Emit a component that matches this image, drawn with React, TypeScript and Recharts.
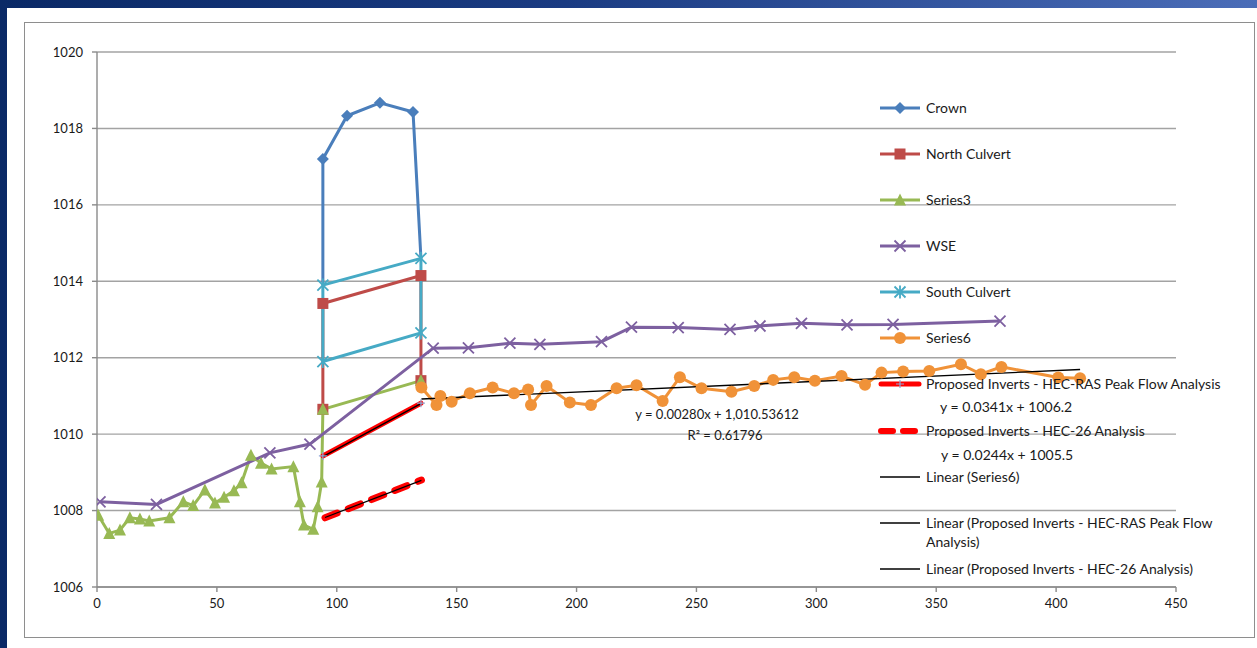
import React from 'react';
import { LineChart, Line, XAxis, YAxis, CartesianGrid } from 'recharts';

const xTicks = [0, 50, 100, 150, 200, 250, 300, 350, 400, 450];
const yTicks = [1006, 1008, 1010, 1012, 1014, 1016, 1018, 1020];

const crownX = [94.2, 94.2, 104.3, 118, 131.8, 135.1];
const crownY = [1013.9, 1017.2, 1018.33, 1018.67, 1018.43, 1014.6];

const northX = [94.2, 94.2, 135.1, 135.1];
const northY = [1010.65, 1013.42, 1014.15, 1011.4];

const series3X = [0.5, 5.1, 9.6, 13.7, 17.9, 21.8, 30.2, 36, 40.1, 45, 49.2, 53, 57.1, 60.3, 64.2, 68.4, 72.8, 81.9, 84.6, 86.3, 90.2, 92, 93.7, 94.2, 135.1];
const series3Y = [1007.88, 1007.4, 1007.49, 1007.81, 1007.78, 1007.73, 1007.81, 1008.23, 1008.13, 1008.54, 1008.2, 1008.35, 1008.52, 1008.73, 1009.45, 1009.24, 1009.09, 1009.15, 1008.23, 1007.62, 1007.51, 1008.1, 1008.75, 1010.65, 1011.4];

const wseX = [1.25, 24.8, 72.1, 88.8, 140.2, 154.9, 172.2, 184.7, 210.4, 222.9, 242.4, 264, 276.5, 293.8, 312.8, 332, 376.6];
const wseY = [1008.23, 1008.16, 1009.51, 1009.74, 1012.25, 1012.26, 1012.38, 1012.35, 1012.42, 1012.8, 1012.79, 1012.74, 1012.83, 1012.9, 1012.86, 1012.87, 1012.96];

const southX = [94.2, 135.1, 135.1, 94.2, 94.2];
const southY = [1011.9, 1012.65, 1014.6, 1013.9, 1011.9];

const series6X = [135.3, 141.6, 143.2, 147.9, 155.5, 165, 173.9, 179.8, 181, 187.5, 197.2, 206, 216.7, 225, 235.9, 243.1, 252.1, 264.6, 274.1, 282, 290.8, 299.4, 310.5, 320.3, 327.2, 336.2, 347.1, 360.3, 368.6, 377.2, 400.9, 410];
const series6Y = [1011.22, 1010.76, 1011.0, 1010.85, 1011.07, 1011.22, 1011.07, 1011.17, 1010.76, 1011.26, 1010.83, 1010.76, 1011.2, 1011.28, 1010.87, 1011.49, 1011.2, 1011.11, 1011.26, 1011.42, 1011.49, 1011.4, 1011.52, 1011.29, 1011.61, 1011.64, 1011.65, 1011.83, 1011.57, 1011.76, 1011.48, 1011.46];

const hecRasX = [94.2, 135.1];
const hecRasY = [1009.43, 1010.81];

const hec26X = [95.1, 135.3];
const hec26Y = [1007.81, 1008.8];

const trend6X = [135.3, 410];
const trend6Y = [1010.92, 1011.69];
const trendRasX = [94.2, 135.1];
const trendRasY = [1009.41, 1010.8];
const trend26X = [95.1, 135.3];
const trend26Y = [1007.82, 1008.79];

const pts = (xs: number[], ys: number[]) => xs.map((x, i) => ({ x, y: ys[i] }));

const C = {
  crown: '#4a7ebb',
  north: '#be4b48',
  s3: '#98b954',
  wse: '#7d60a0',
  south: '#46aac5',
  s6: '#f09238',
  red: '#ff0000',
};

type Shape = 'diamond' | 'square' | 'triangle' | 'x' | 'star' | 'circle' | 'plus';

function marker(shape: Shape, cx: number, cy: number, color: string, key?: string) {
  const s = 6;
  switch (shape) {
    case 'diamond':
      return <path key={key} d={`M${cx},${cy - s}L${cx + s},${cy}L${cx},${cy + s}L${cx - s},${cy}Z`} fill={color} />;
    case 'square':
      return <rect key={key} x={cx - 5.5} y={cy - 5.5} width={11} height={11} fill={color} />;
    case 'triangle':
      return <path key={key} d={`M${cx},${cy - 6.5}L${cx + 6},${cy + 5.5}L${cx - 6},${cy + 5.5}Z`} fill={color} />;
    case 'x':
      return <path key={key} d={`M${cx - 5.5},${cy - 5.5}L${cx + 5.5},${cy + 5.5}M${cx + 5.5},${cy - 5.5}L${cx - 5.5},${cy + 5.5}`} stroke={color} strokeWidth={1.8} />;
    case 'star':
      return <path key={key} d={`M${cx - 5.5},${cy - 5.5}L${cx + 5.5},${cy + 5.5}M${cx + 5.5},${cy - 5.5}L${cx - 5.5},${cy + 5.5}M${cx},${cy - 6.5}L${cx},${cy + 6.5}`} stroke={color} strokeWidth={1.8} />;
    case 'circle':
      return <circle key={key} cx={cx} cy={cy} r={6} fill={color} />;
    case 'plus':
      return <path key={key} d={`M${cx - 4},${cy}L${cx + 4},${cy}M${cx},${cy - 4}L${cx},${cy + 4}`} stroke="#8fa7d6" strokeWidth={1.2} />;
  }
  return null;
}

const dotFn = (shape: Shape, color: string, skip: number[] = []) => (p: any) => {
  const k = `dot-${p.index}`;
  if (skip.includes(p.index) || p.cx == null) return <g key={k} />;
  return marker(shape, p.cx, p.cy, color, k) as React.ReactElement;
};

const font = 'Lato, "Open Sans", sans-serif';
const legendFont = 14;
const lw = 3;

function LegendRow({ top, color, shape, kind, children }: { top: number; color?: string; shape?: Shape; kind: 'series' | 'ras' | 'h26' | 'trend'; children: React.ReactNode }) {
  return (
    <div style={{ position: 'absolute', left: 0, top: top - 9, height: 18, display: 'flex', alignItems: 'flex-start', whiteSpace: 'nowrap' }}>
      <svg width={44} height={18} style={{ display: 'block', marginRight: 4 }}>
        {kind === 'series' && <line x1={2} y1={9} x2={42} y2={9} stroke={color} strokeWidth={lw} />}
        {kind === 'series' && shape && marker(shape, 22, 9, color!)}
        {kind === 'ras' && <line x1={3} y1={9} x2={41} y2={9} stroke={C.red} strokeWidth={5} strokeLinecap="round" />}
        {kind === 'ras' && marker('plus', 22, 9, '#8fa7d6')}
        {kind === 'h26' && <line x1={3} y1={9} x2={41} y2={9} stroke={C.red} strokeWidth={6} strokeLinecap="round" strokeDasharray="12 10" />}
        {kind === 'trend' && <line x1={2} y1={9} x2={42} y2={9} stroke="#000" strokeWidth={1.4} />}
      </svg>
      <div style={{ fontSize: legendFont, lineHeight: '18px', color: '#1a1a1a' }}>{children}</div>
    </div>
  );
}

function LegendBox() {
  const sub = { position: 'absolute' as const, fontSize: legendFont, lineHeight: '18px', color: '#1a1a1a', whiteSpace: 'nowrap' as const };
  return (
    <div style={{ position: 'absolute', left: 878, top: 96, width: 370, height: 490, fontFamily: font }}>
      <LegendRow top={12} kind="series" color={C.crown} shape="diamond">Crown</LegendRow>
      <LegendRow top={58} kind="series" color={C.north} shape="square">North Culvert</LegendRow>
      <LegendRow top={104} kind="series" color={C.s3} shape="triangle">Series3</LegendRow>
      <LegendRow top={150} kind="series" color={C.wse} shape="x">WSE</LegendRow>
      <LegendRow top={196} kind="series" color={C.south} shape="star">South Culvert</LegendRow>
      <LegendRow top={242} kind="series" color={C.s6} shape="circle">Series6</LegendRow>
      <LegendRow top={288} kind="ras">Proposed Inverts - HEC-RAS Peak Flow Analysis</LegendRow>
      <div style={{ ...sub, left: 62, top: 302 }}>y = 0.0341x + 1006.2</div>
      <LegendRow top={335} kind="h26">Proposed Inverts - HEC-26 Analysis</LegendRow>
      <div style={{ ...sub, left: 63, top: 350 }}>y = 0.0244x + 1005.5</div>
      <LegendRow top={381} kind="trend">Linear (Series6)</LegendRow>
      <LegendRow top={427} kind="trend">Linear (Proposed Inverts - HEC-RAS Peak Flow</LegendRow>
      <div style={{ ...sub, left: 48, top: 437 }}>Analysis)</div>
      <LegendRow top={473} kind="trend">Linear (Proposed Inverts - HEC-26 Analysis)</LegendRow>
    </div>
  );
}

export default function App() {
  const tick = { fontSize: 13, fill: '#1a1a1a', fontFamily: font };
  return (
    <div style={{ position: 'absolute', left: 0, top: 0, width: 1257, height: 648, overflow: 'hidden', background: 'linear-gradient(90deg, #0a2966 0%, #1a3b82 45%, #4b6db8 100%)', fontFamily: font }}>
      <div style={{ position: 'absolute', left: 7, top: 8, width: 1250, height: 640, background: '#fff' }} />
      <div style={{ position: 'absolute', left: 24, top: 22, width: 1229, height: 614, border: '1.5px solid #8e8e8e' }} />
      <div style={{ position: 'absolute', left: 0, top: 0 }}>
        <LineChart width={1257} height={648} margin={{ top: 52, right: 81, left: 37, bottom: 31 }}>
          <CartesianGrid vertical={false} stroke="#a3a3a3" strokeWidth={1.4} />
          <XAxis type="number" dataKey="x" domain={[0, 450]} ticks={xTicks} allowDataOverflow height={30} tick={tick} tickSize={5} tickMargin={7} stroke="#8a8a8a" strokeWidth={1.4} />
          <YAxis type="number" dataKey="y" domain={[1006, 1020]} ticks={yTicks} allowDataOverflow width={60} tick={tick} tickSize={5} tickMargin={9} stroke="#8a8a8a" strokeWidth={1.4} />
          <Line data={pts(crownX, crownY)} dataKey="y" name="Crown" stroke={C.crown} strokeWidth={lw} dot={dotFn('diamond', C.crown, [0, 5])} activeDot={false} isAnimationActive={false} />
          <Line data={pts(northX, northY)} dataKey="y" name="North Culvert" stroke={C.north} strokeWidth={lw} dot={dotFn('square', C.north)} activeDot={false} isAnimationActive={false} />
          <Line data={pts(series3X, series3Y)} dataKey="y" name="Series3" stroke={C.s3} strokeWidth={lw} dot={dotFn('triangle', C.s3)} activeDot={false} isAnimationActive={false} />
          <Line data={pts(wseX, wseY)} dataKey="y" name="WSE" stroke={C.wse} strokeWidth={lw} dot={dotFn('x', C.wse)} activeDot={false} isAnimationActive={false} />
          <Line data={pts(southX, southY)} dataKey="y" name="South Culvert" stroke={C.south} strokeWidth={lw} dot={dotFn('star', C.south, [4])} activeDot={false} isAnimationActive={false} />
          <Line data={pts(series6X, series6Y)} dataKey="y" name="Series6" stroke={C.s6} strokeWidth={lw} dot={dotFn('circle', C.s6)} activeDot={false} isAnimationActive={false} />
          <Line data={pts(hecRasX, hecRasY)} dataKey="y" name="Proposed Inverts - HEC-RAS Peak Flow Analysis" stroke={C.red} strokeWidth={5} strokeLinecap="round" dot={dotFn('plus', C.red)} activeDot={false} isAnimationActive={false} />
          <Line data={pts(hec26X, hec26Y)} dataKey="y" name="Proposed Inverts - HEC-26 Analysis" stroke={C.red} strokeWidth={7} strokeLinecap="round" strokeDasharray="13 12" dot={false} activeDot={false} isAnimationActive={false} />
          <Line data={pts(trend6X, trend6Y)} dataKey="y" name="Linear (Series6)" stroke="#000" strokeWidth={1.4} dot={false} activeDot={false} isAnimationActive={false} />
          <Line data={pts(trendRasX, trendRasY)} dataKey="y" name="Linear (Proposed Inverts - HEC-RAS Peak Flow Analysis)" stroke="#000" strokeWidth={1.4} dot={false} activeDot={false} isAnimationActive={false} />
          <Line data={pts(trend26X, trend26Y)} dataKey="y" name="Linear (Proposed Inverts - HEC-26 Analysis)" stroke="#000" strokeWidth={1.2} dot={false} activeDot={false} isAnimationActive={false} />
        </LineChart>
      </div>
      <LegendBox />
      <div style={{ position: 'absolute', left: 717, top: 414, transform: 'translate(-50%, -50%)', fontSize: 13, whiteSpace: 'nowrap', color: '#1a1a1a' }}>y = 0.00280x + 1,010.53612</div>
      <div style={{ position: 'absolute', left: 725, top: 435, transform: 'translate(-50%, -50%)', fontSize: 13, whiteSpace: 'nowrap', color: '#1a1a1a' }}>R² = 0.61796</div>
    </div>
  );
}
